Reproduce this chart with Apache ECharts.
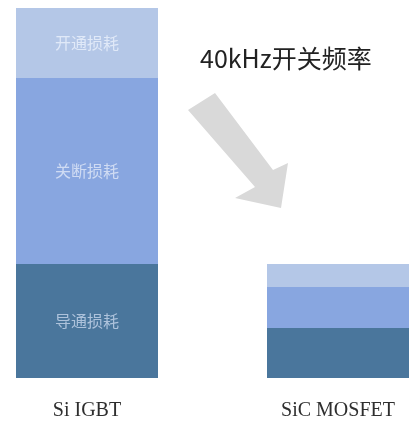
<!DOCTYPE html>
<html>
<head>
<meta charset="utf-8">
<script src="https://cdn.jsdelivr.net/npm/echarts@6/dist/echarts.min.js"></script>
<style>
  html, body { margin: 0; padding: 0; background: #fff; }
  #chart { width: 409px; height: 424px; }
</style>
</head>
<body>
<div id="chart"></div>
<script>
// Device categories
const devices = ['Si IGBT', 'SiC MOSFET'];
// Loss components (relative units), stacked bottom to top
const conductionLoss = [114, 50];
const turnOffLoss = [186, 41];
const turnOnLoss = [70, 23];
const seriesNames = ['导通损耗', '关断损耗', '开通损耗'];
const annotation = '40kHz开关频率';

const chart = echarts.init(document.getElementById('chart'));

function stackSeries(name, values, color, labelColor) {
  return {
    name: name,
    type: 'bar',
    stack: 'loss',
    barWidth: 142,
    itemStyle: { color: color },
    data: values.map((v, i) => ({
      value: v,
      label: {
        show: i === 0,
        position: 'inside',
        formatter: '{a}',
        color: labelColor,
        fontSize: 16,
        fontFamily: '"Noto Sans CJK SC", sans-serif'
      }
    }))
  };
}

chart.setOption({
  animation: false,
  grid: { left: 87, right: 71, top: 8, bottom: 46 },
  xAxis: {
    type: 'category',
    data: devices,
    boundaryGap: false,
    axisLine: { show: false },
    axisTick: { show: false },
    axisLabel: {
      margin: 23,
      fontSize: 20,
      color: '#2e2e2e',
      fontFamily: '"Liberation Serif", "Times New Roman", serif'
    }
  },
  yAxis: {
    type: 'value',
    min: 0,
    max: 370,
    show: false,
    splitLine: { show: false }
  },
  series: [
    stackSeries(seriesNames[0], conductionLoss, '#4a769c', 'rgba(190,208,230,0.85)'),
    stackSeries(seriesNames[1], turnOffLoss, '#88a6e0', 'rgba(225,232,248,0.8)'),
    stackSeries(seriesNames[2], turnOnLoss, '#b4c7e7', 'rgba(232,238,250,0.85)')
  ],
  graphic: [
    {
      type: 'text',
      left: 200,
      top: 46,
      style: {
        text: annotation,
        fontSize: 25,
        fill: '#222',
        fontFamily: '"Noto Sans CJK SC", sans-serif'
      }
    },
    {
      type: 'polygon',
      shape: {
        points: [[188, 110], [215, 93], [273, 170], [288, 163], [281, 208], [235, 198], [255, 187]]
      },
      style: { fill: '#d9d9d9' }
    }
  ]
});
</script>
</body>
</html>
